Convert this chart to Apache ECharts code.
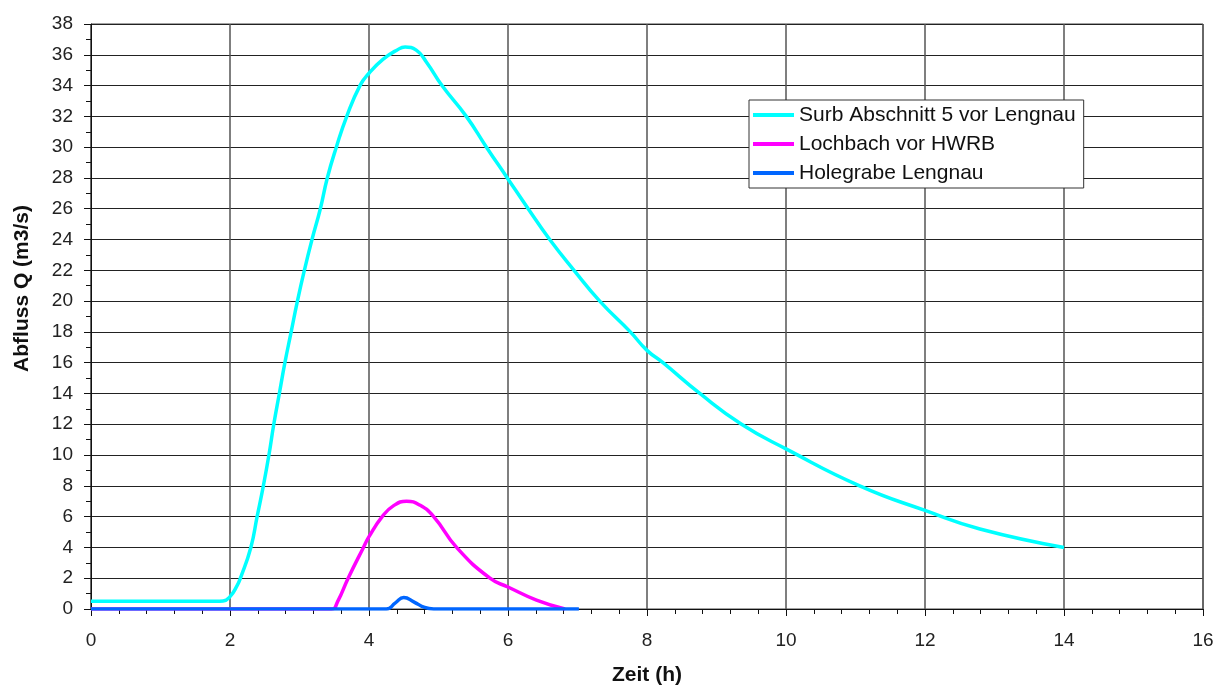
<!DOCTYPE html>
<html>
<head>
<meta charset="utf-8">
<script src="https://cdn.jsdelivr.net/npm/echarts@6/dist/echarts.min.js"></script>
<style>
  html, body { margin: 0; padding: 0; background: #fff; }
  #chart { width: 1223px; height: 686px; }
</style>
</head>
<body>
<div id="chart"></div>
<script>
// series names
var seriesNames = ['Surb Abschnitt 5 vor Lengnau', 'Lochbach vor HWRB', 'Holegrabe Lengnau'];

// Surb: time (h) and discharge (m3/s)
var surbTime = [0, 1, 1.8, 1.9, 2.0, 2.1, 2.15, 2.3, 2.39, 2.48, 2.56, 2.63, 2.71, 2.79, 2.88, 2.97,
  3.07, 3.18, 3.3, 3.4, 3.53, 3.68, 3.87, 4.0, 4.2, 4.4, 4.52, 4.68, 4.83, 5.05, 5.4, 5.69, 5.99,
  6.29, 6.6, 6.95, 7.32, 7.76, 8.0, 8.23, 8.76, 9.36, 10.0, 11.06, 12.0, 12.79, 14.0];
var surbQ = [0.5, 0.5, 0.5, 0.52, 0.8, 1.5, 2.0, 4.0, 6.0, 8.0, 10, 12, 14, 16, 18, 20,
  22, 24, 26, 28, 30, 32, 34, 34.8, 35.7, 36.3, 36.5, 36.3, 35.5, 34, 32, 30, 28,
  26, 24, 22, 20, 18, 16.8, 16, 14, 12, 10.4, 8, 6.4, 5.2, 4.0];

// Lochbach
var lochTime = [0, 3.46, 3.55, 3.7, 3.92, 4.0, 4.19, 4.35, 4.54, 4.73, 4.93, 5.26, 5.74, 6.0, 6.41, 6.82];
var lochQ = [0, 0, 0.5, 2, 4, 4.7, 6, 6.7, 7.0, 6.75, 6.0, 4.0, 2.0, 1.43, 0.58, 0];

// Holegrabe
var holeTime = [0, 4.25, 4.38, 4.5, 4.65, 4.8, 4.93, 7.02];
var holeQ = [0, 0, 0.4, 0.75, 0.45, 0.1, 0, 0];

var colors = ['#00ffff', '#ff00ff', '#0066ff'];

function pairs(t, q) {
  return t.map(function (v, i) { return [v, q[i]]; });
}

var myChart = echarts.init(document.getElementById('chart'));

var font = 'Liberation Sans, Arial, sans-serif';

function lineSeries(i, t, q) {
  return {
    name: seriesNames[i],
    type: 'line',
    data: pairs(t, q),
    smooth: 0.5,
    showSymbol: false,
    lineStyle: { color: colors[i], width: 3.5 },
    itemStyle: { color: colors[i] }
  };
}

var option = {
  backgroundColor: '#fff',
  animation: false,
  grid: {
    left: 91,
    right: 20,
    top: 24,
    bottom: 77,
    outerBoundsMode: 'none',
    containLabel: false,
    show: true,
    borderColor: '#444',
    borderWidth: 1
  },
  legend: {
    orient: 'vertical',
    left: 749,
    top: 100,
    padding: [4, 8, 4, 4],
    backgroundColor: '#fff',
    borderColor: '#333',
    borderWidth: 1,
    itemWidth: 41,
    itemHeight: 4,
    itemGap: 7,
    icon: 'rect',
    textStyle: {
      fontFamily: font,
      fontSize: 21,
      color: '#111',
      lineHeight: 22
    },
    data: seriesNames
  },
  xAxis: {
    type: 'value',
    min: 0,
    max: 16,
    interval: 2,
    name: 'Zeit (h)',
    nameLocation: 'middle',
    nameGap: 56,
    nameTextStyle: {
      fontFamily: font,
      fontSize: 21,
      fontWeight: 'bold',
      color: '#111'
    },
    axisLine: { show: true, lineStyle: { color: '#111', width: 1 } },
    axisTick: { show: true, length: 7, lineStyle: { color: '#111' } },
    minorTick: { show: true, splitNumber: 5, length: 5, lineStyle: { color: '#111' } },
    axisLabel: {
      margin: 22,
      fontFamily: font,
      fontSize: 19,
      color: '#222'
    },
    splitLine: { show: true, lineStyle: { color: '#555', width: 1.5 } }
  },
  yAxis: {
    type: 'value',
    min: 0,
    max: 38,
    interval: 2,
    name: 'Abfluss Q (m3/s)',
    nameLocation: 'middle',
    nameGap: 58,
    nameTextStyle: {
      fontFamily: font,
      fontSize: 21,
      fontWeight: 'bold',
      color: '#111',
      padding: [0, 0, 0, 56]
    },
    axisLine: { show: true, lineStyle: { color: '#111', width: 1 } },
    axisTick: { show: true, length: 7, lineStyle: { color: '#111' } },
    minorTick: { show: true, splitNumber: 2, length: 5, lineStyle: { color: '#111' } },
    axisLabel: {
      margin: 18,
      fontFamily: font,
      fontSize: 19,
      color: '#222'
    },
    splitLine: { show: true, lineStyle: { color: '#222', width: 1 } }
  },
  series: [
    lineSeries(0, surbTime, surbQ),
    lineSeries(1, lochTime, lochQ),
    lineSeries(2, holeTime, holeQ)
  ]
};

if (option && typeof option === 'object') {
  myChart.setOption(option);
}

window.addEventListener('resize', myChart.resize);
</script>
</body>
</html>
